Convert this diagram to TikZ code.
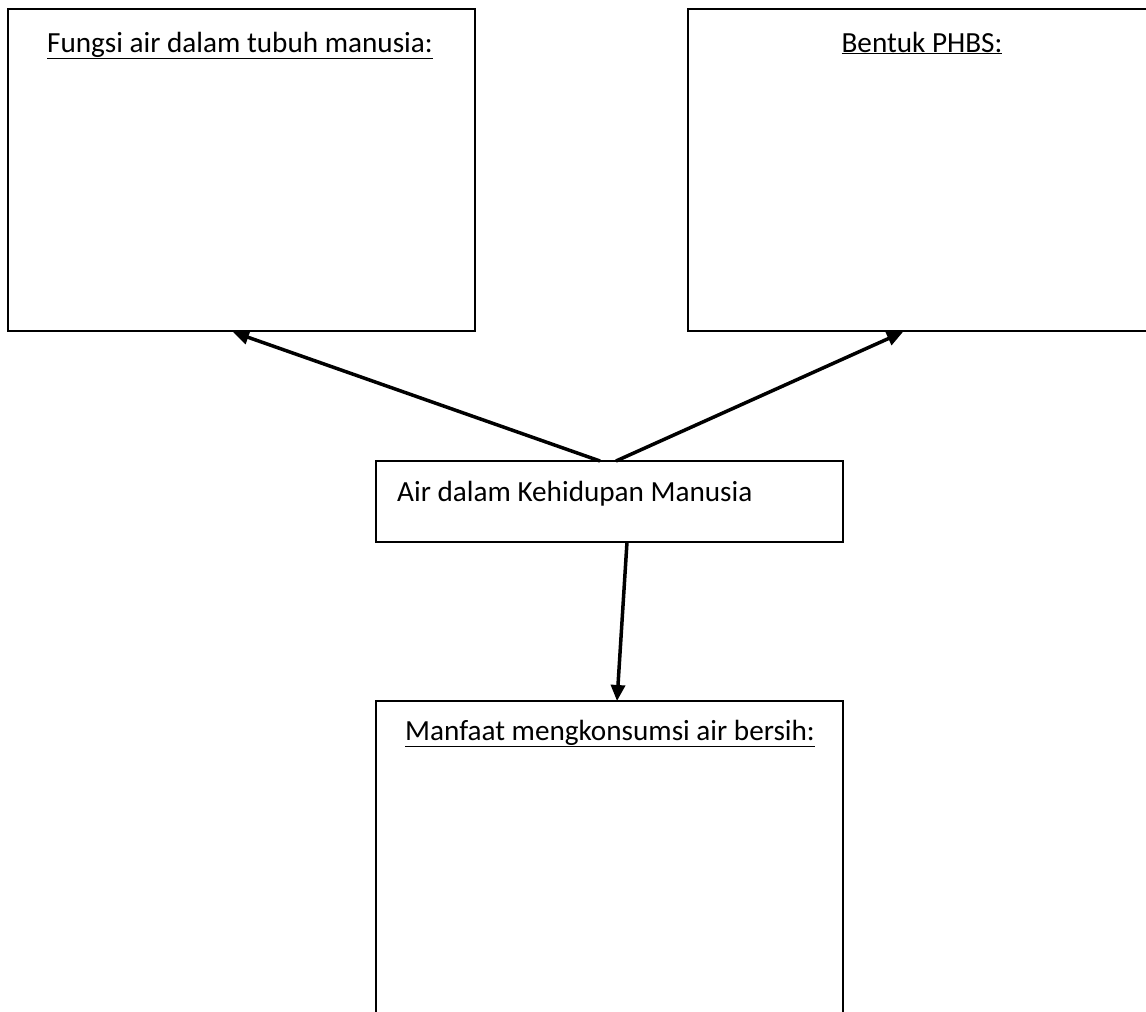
\documentclass[tikz,border=0pt]{standalone}
\usepackage{fontspec}
\setmainfont{Carlito}
\usetikzlibrary{arrows.meta}
\begin{document}
\begin{tikzpicture}[x=1pt,y=-1pt,
  box/.style={draw=black,line width=1.6pt},
  title/.style={anchor=base,inner sep=0pt,font=\fontsize{29.2}{34}\selectfont},
  conn/.style={line width=3.5pt,-{Triangle[length=16pt,width=14pt]}}]
\useasboundingbox (0,0) rectangle (1146,1012);
\clip (0,0) rectangle (1146,1012);
\fill[white] (0,0) rectangle (1146,1012);
% boxes
\draw[box] (8,9) rectangle (475,331);
\draw[box] (688,9) rectangle (1150,331);
\draw[box] (376,461) rectangle (843,542);
\draw[box] (376,701) rectangle (843,1030);
% named anchors
\coordinate (fTip) at (233,332);
\coordinate (bTip) at (903,332);
\coordinate (mTip) at (617,701);
\coordinate (cL) at (600,461);
\coordinate (cR) at (616,461);
\coordinate (cB) at (627,542);
% texts
\node[title] (fungsi) at (240,52) {\underline{Fungsi air dalam tubuh manusia:}};
\node[title] (phbs) at (922,52) {\underline{Bentuk PHBS:}};
\node[title,anchor=base west] (air) at (397,501) {Air dalam Kehidupan Manusia};
\node[title] (manfaat) at (610,740) {\underline{Manfaat mengkonsumsi air bersih:}};
% connectors
\draw[conn] (cL) -- (fTip);
\draw[conn] (cR) -- (bTip);
\draw[conn] (cB) -- (mTip);
\end{tikzpicture}
\end{document}
